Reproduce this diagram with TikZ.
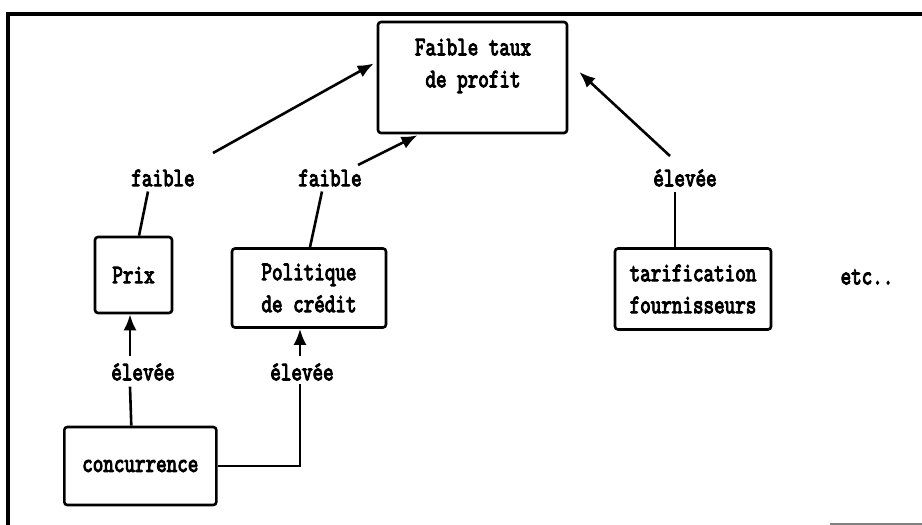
\documentclass[tikz,border=0pt]{standalone}
\usepackage{fontspec}
\usepackage{graphicx}
\newfontfamily\printerfont{Latin Modern Mono}
\usetikzlibrary{arrows.meta}
% tall, heavy printer-style lettering (glyph outlines stroked as well as filled)
\newcommand{\tl}[1]{\scalebox{1}[1.3]{\special{pdf:literal direct 2 Tr 0.9 w}#1\special{pdf:literal direct 0 Tr}}}
\begin{document}
\begin{tikzpicture}[x=1pt,y=-1pt,
  every node/.style={font=\printerfont\fontsize{20.5}{32}\selectfont},
  box/.style={draw, line width=2.6pt, rounded corners=3pt, inner sep=5pt},
  lbl/.style={inner sep=2pt},
  link/.style={line width=2.6pt},
  arr/.style={line width=2.6pt, -{Latex[length=16pt,width=13pt]}}]
\useasboundingbox (0,0) rectangle (922,525);
% outer frame
\draw[line width=3.5pt] (922,14) -- (8,14) -- (8,525);
\draw[line width=2pt, gray] (830,523.5) -- (922,523.5);

% boxes
\node[box, minimum width=189pt, minimum height=111pt] (profit) at (472.5,77.5) {};
\node[lbl, align=center] (profittxt) at (473,66) {\tl{Faible taux}\\\tl{de profit}};
\node[box, minimum width=77pt, minimum height=76pt] (prix) at (133.5,275) {\tl{Prix}};
\node[box, minimum width=154pt, minimum height=79pt, align=left] (credit) at (309,288) {\tl{Politique}\\\tl{de crédit}};
\node[box, minimum width=156pt, minimum height=81pt, align=left, inner xsep=3pt] (tarif) at (693,289) {\tl{tarification}\\\tl{fournisseurs}};
\node[box, minimum width=152pt, minimum height=78pt, anchor=west, inner xsep=4pt] (conc) at (63,466) {\tl{concurrence}};

% labels
\node[lbl] (f1) at (163,178) {\tl{faible}};
\node[lbl] (f2) at (330,178) {\tl{faible}};
\node[lbl] (e3) at (685,178) {\tl{élevée}};
\node[lbl] (e1) at (143,372) {\tl{élevée}};
\node[lbl] (e2) at (302,372) {\tl{élevée}};
\node[lbl] (etc) at (867,277) {\tl{etc..}};

% upper connectors
\draw[link] ([xshift=5.5]prix.north) -- ([xshift=-15,yshift=-3]f1.south);
\draw[arr] ([xshift=50,yshift=25]f1.center) -- ([xshift=-3,yshift=14]profit.west);
\draw[link] ([xshift=1]credit.north) -- ([xshift=-8,yshift=-3]f2.south);
\draw[arr] ([xshift=28,yshift=13]f2.center) -- ([xshift=-55,yshift=-1]profit.south);
\draw[link] ([xshift=-18]tarif.north) -- ([xshift=-10,yshift=-3]e3.south);
\draw[arr] ([xshift=-15,yshift=22]e3.center) -- ([xshift=11,yshift=5.5]profit.east);

% lower connectors
\draw[arr] ([xshift=-13,yshift=5]e1.north) -- ([xshift=-3.5]prix.south);
\draw[arr] ([xshift=-2,yshift=5]e2.north) -- ([xshift=-9]credit.south);
\draw[link] ([xshift=-9]conc.north) -- ([xshift=-13,yshift=-4]e1.south);
\draw[link] (conc.east) -| ([xshift=-2,yshift=-1]e2.south);
\end{tikzpicture}
\end{document}
